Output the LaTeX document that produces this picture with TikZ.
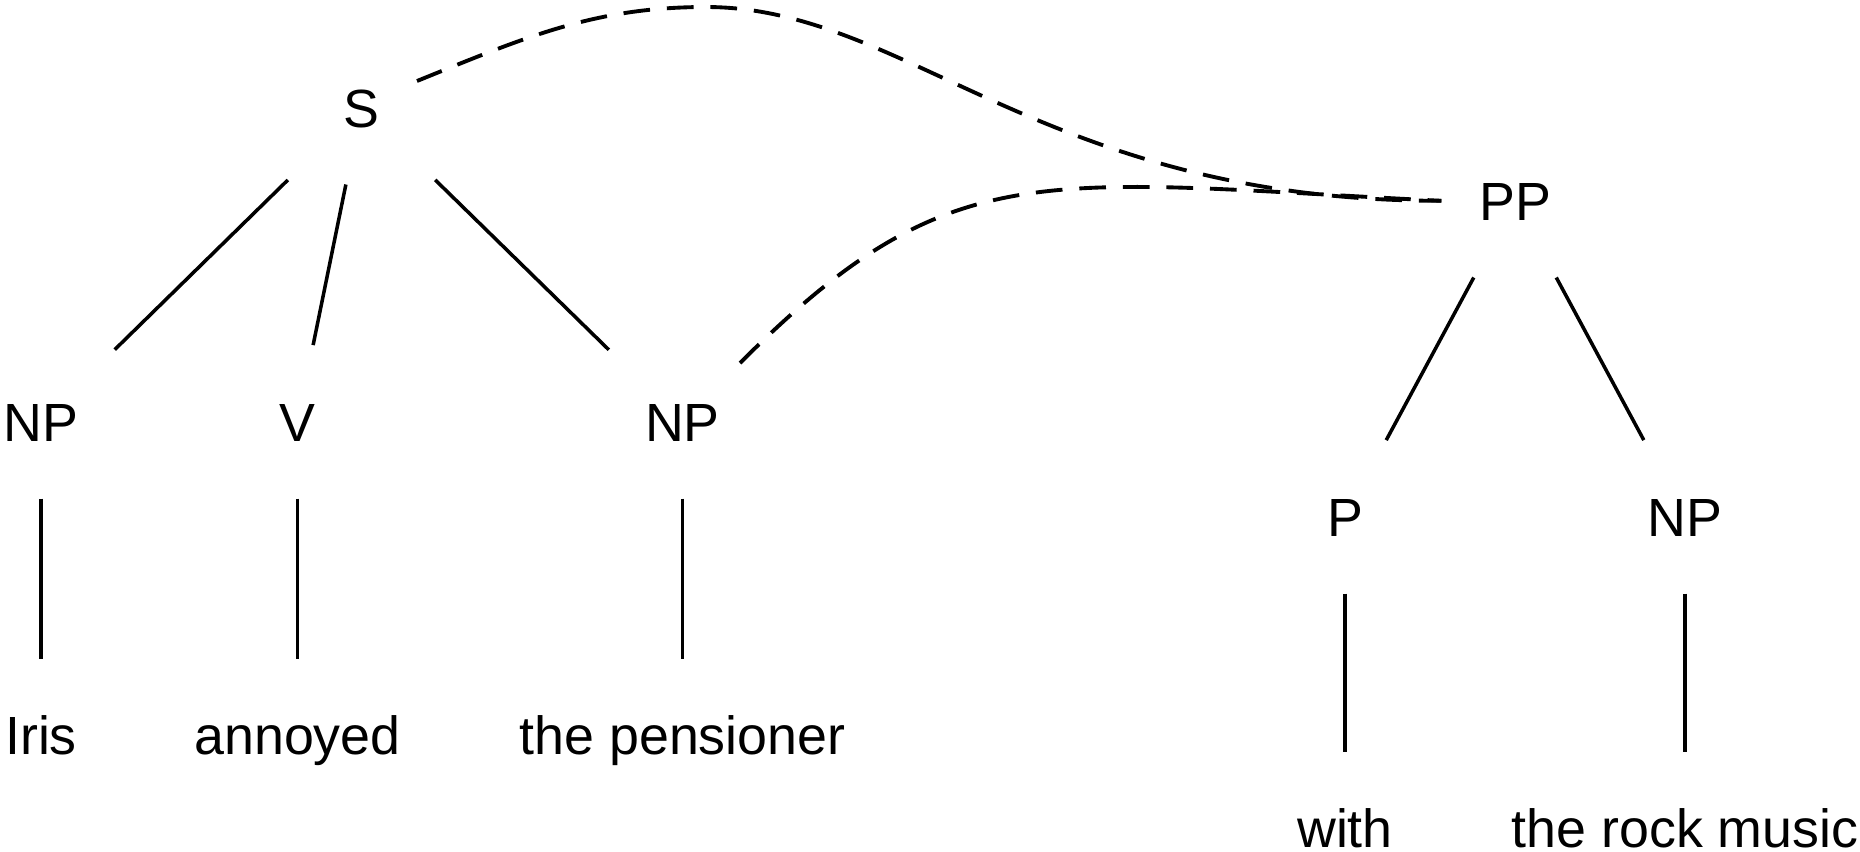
\documentclass[tikz,border=0pt]{standalone}
\usepackage{fontspec}
\setmainfont{Liberation Sans}
\usetikzlibrary{positioning}

\begin{document}
\begin{tikzpicture}[
  node distance=1.6cm,
  cat/.style={inner sep=0pt,minimum width=1.46cm,minimum height=1.52cm,text height=0.385cm,text depth=0pt,font=\fontsize{15.3}{18}\selectfont},
  word/.style={cat},
  branch/.style={line width=1pt},
  link/.style={line width=1.1pt,dash pattern=on 7.6pt off 4.8pt}
]
  \useasboundingbox (0,0) rectangle (18.6,-8.51);
  % categories
  \node[cat] (sent) at (3.615,-1.078) {S};
  \node[cat] (subjnp) at (0.41,-4.218) {NP};
  \node[cat] (verb) at (2.975,-4.218) {V};
  \node[cat] (objnp) at (6.825,-4.218) {NP};
  \node[cat] (pp) at (15.15,-2.008) {PP};
  \node[cat] (prep) at (13.45,-5.168) {P};
  \node[cat] (pobjnp) at (16.85,-5.168) {NP};
  % words
  \node[word,below=of subjnp] (iris) {Iris};
  \node[word,below=of verb] (annoyed) {annoyed};
  \node[word,below=of objnp] (pensioner) {the pensioner};
  \node[word,below=1.58cm of prep] (with) {with};
  \node[word,below=1.58cm of pobjnp] (music) {the rock music};
  \draw[branch] (sent) -- (subjnp);
  \draw[branch] (sent) -- (verb);
  \draw[branch] (sent) -- (objnp);
  \draw[branch] (pp) -- (prep);
  \draw[branch] (pp) -- (pobjnp);
  \draw[branch] (subjnp) -- (iris);
  \draw[branch] (verb) -- (annoyed);
  \draw[branch] (objnp) -- (pensioner);
  \draw[branch] (prep) -- (with);
  \draw[branch] (pobjnp) -- (music);
  % attachment sites
  \coordinate (peak) at (7.06,-0.07);
  \draw[link] ([shift={(0.555,0.268)}]sent.center) .. controls (5.28,-0.36) and (5.96,-0.07) .. (peak)
    .. controls (9.07,-0.07) and (10.44,-2.01) .. (pp.west);
  \draw[link] ([shift={(0.575,0.588)}]objnp.center) .. controls (9.52,-1.51) and (10.40,-1.81) .. (pp.west);
\end{tikzpicture}
\end{document}
